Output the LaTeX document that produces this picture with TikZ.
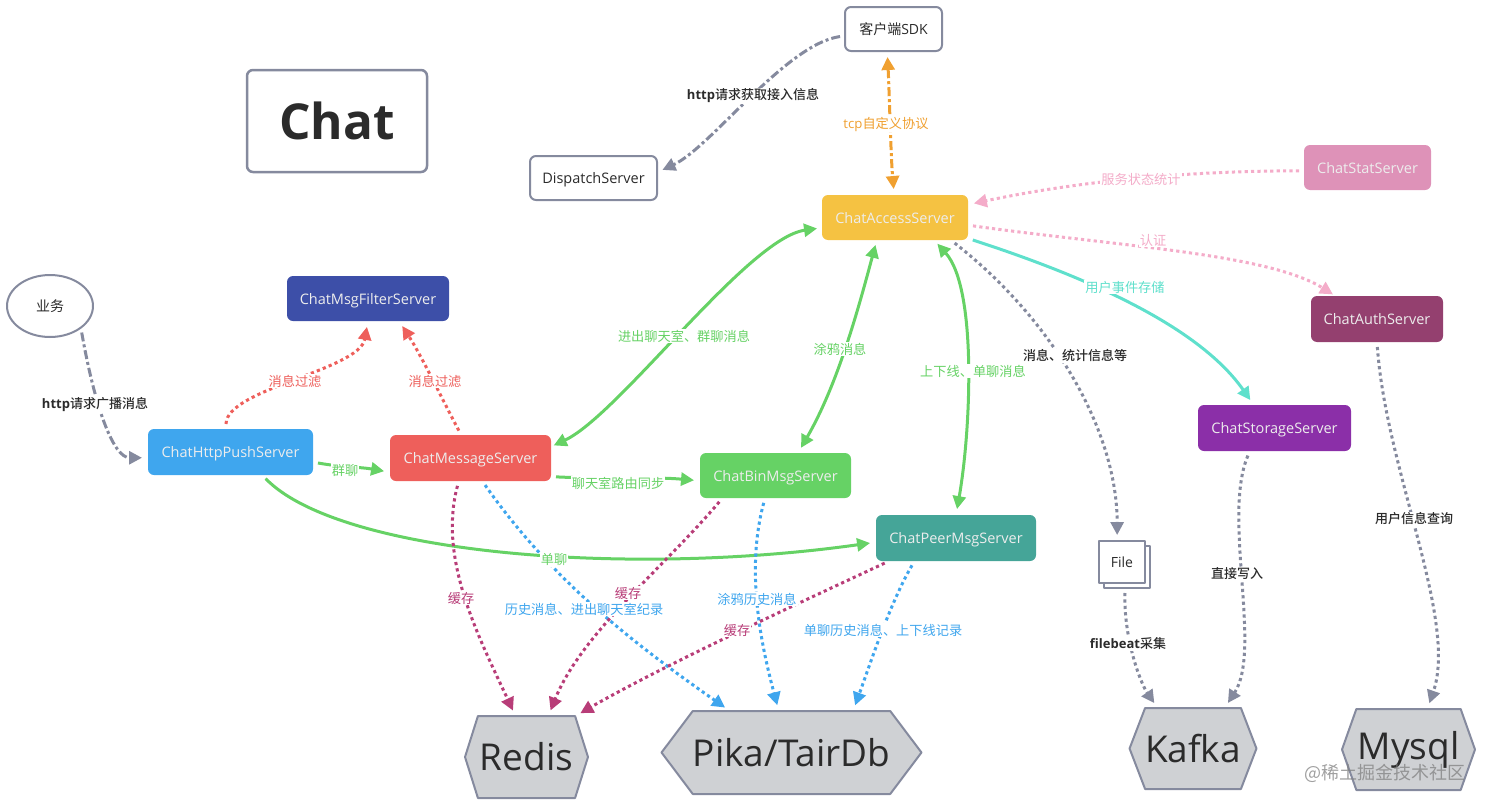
\documentclass[tikz,border=0pt]{standalone}
\usepackage{fontspec}
\setmainfont{Open Sans}
\newfontfamily\cjk{Noto Sans CJK SC}
\newfontfamily\cjkdark{Noto Sans CJK SC Medium}
\newcommand{\latlbl}{\rmfamily}
\newcommand{\latdark}{\rmfamily\bfseries}
\usetikzlibrary{arrows.meta,shapes.symbols,shapes.geometric}
\definecolor{edgegray}{HTML}{858A9E}
\definecolor{linkgreen}{HTML}{66D265}
\definecolor{linkorange}{HTML}{F0A030}
\definecolor{linkpink}{HTML}{F4ACC9}
\definecolor{linkteal}{HTML}{5FE0CC}
\definecolor{linkred}{HTML}{EE5F5B}
\definecolor{linkplum}{HTML}{B83D78}
\definecolor{linkblue}{HTML}{3FA6EE}
\definecolor{darktext}{HTML}{2B2B2B}
\definecolor{hexfill}{HTML}{CFD1D4}
\definecolor{boxaccess}{HTML}{F5C242}
\definecolor{boxstat}{HTML}{DE92B8}
\definecolor{boxauth}{HTML}{94406F}
\definecolor{boxstorage}{HTML}{8B2FA8}
\definecolor{boxfilter}{HTML}{3D4FA8}
\definecolor{boxpeer}{HTML}{45A598}
\tikzset{
	tip/.tip={Triangle[length=13pt,width=13pt]},
	srv/.style={rounded corners=6pt,inner sep=0pt,outer sep=0pt,text=white!93!black,text height=11pt,text depth=0pt,font=\fontsize{14.5}{17}\selectfont},
	plain/.style={srv,draw=edgegray,line width=2pt,fill=white,text=darktext},
	store/.style={shape=signal,signal to=east and west,draw=edgegray,line width=2pt,fill=hexfill,inner sep=0pt,outer sep=0pt,text=darktext,font=\fontsize{37}{40}\selectfont},
	conn/.style={line width=3pt,-tip,shorten >=6pt,shorten <=5pt},
	both/.style={conn,tip-tip},
	dots/.style={conn,line cap=butt,dash pattern=on 3.2pt off 3.2pt},
	dashdot/.style={conn,dash pattern=on 9pt off 3pt on 3pt off 3pt},
	lbl/.style={fill=white,inner sep=1pt,yshift=-1pt,font=\cjk\fontsize{13.2}{15}\selectfont},
	dark/.style={lbl,text=darktext,font=\cjkdark\fontsize{13}{15}\selectfont},
}
\begin{document}
\begin{tikzpicture}[x=1pt,y=-1pt,line join=round]
	\useasboundingbox (0,0) rectangle (1488,806);
	% boxes
	\node[plain,line width=2.5pt,minimum width=180pt,minimum height=102pt,text height=36pt,font=\bfseries\fontsize{49.5}{54}\selectfont] (chat) at (337,121) {Chat};
	\node[plain,minimum width=97pt,minimum height=44pt,font=\cjk\fontsize{14}{17}\selectfont] (sdk) at (893.5,29) {客户端{\latlbl SDK}};
	\node[plain,minimum width=127pt,minimum height=44pt] (dispatch) at (593.5,178) {DispatchServer};
	\node[srv,fill=boxaccess,minimum width=146pt,minimum height=45pt] (access) at (895,217.5) {ChatAccessServer};
	\node[srv,fill=boxstat,minimum width=127pt,minimum height=45pt] (stat) at (1367.5,167.5) {ChatStatServer};
	\node[srv,fill=boxauth,minimum width=132pt,minimum height=46pt] (auth) at (1377,319) {ChatAuthServer};
	\node[srv,fill=boxstorage,minimum width=153pt,minimum height=46pt] (storage) at (1274.5,428) {ChatStorageServer};
	\node[srv,fill=boxfilter,minimum width=162pt,minimum height=45pt] (filter) at (368,298.5) {ChatMsgFilterServer};
	\node[srv,fill=linkblue,minimum width=165pt,minimum height=46pt] (httppush) at (230.5,452) {ChatHttpPushServer};
	\node[srv,fill=linkred,minimum width=161pt,minimum height=46pt] (message) at (470.5,458) {ChatMessageServer};
	\node[srv,fill=linkgreen,minimum width=151pt,minimum height=45pt] (binmsg) at (775.5,475.5) {ChatBinMsgServer};
	\node[srv,fill=boxpeer,minimum width=160pt,minimum height=46pt] (peer) at (956,538) {ChatPeerMsgServer};
	\node[ellipse,draw=edgegray,line width=2pt,fill=white,inner sep=0pt,outer sep=0pt,text=darktext,minimum width=86pt,minimum height=62pt,font=\cjk\fontsize{14}{17}\selectfont] (biz) at (50,306) {业务};
	\node[draw=edgegray,line width=1.6pt,fill=white,inner sep=0pt,outer sep=0pt,minimum width=46pt,minimum height=42pt] (fileback) at (1127,567) {};
	\node[draw=edgegray,line width=1.6pt,fill=white,inner sep=0pt,outer sep=0pt,text=darktext,minimum width=46pt,minimum height=42pt,font=\fontsize{14}{17}\selectfont] (file) at (1122,562) {File};
	% stores
	\node[store,minimum width=123pt,minimum height=82pt,signal pointer angle=145] (redis) at (526.5,757) {Redis};
	\node[store,minimum width=259pt,minimum height=83pt,signal pointer angle=106] (pika) at (791.5,752.5) {Pika/TairDb};
	\node[store,minimum width=126pt,minimum height=81pt,signal pointer angle=138] (kafka) at (1193,748.5) {Kafka};
	\node[store,minimum width=133pt,minimum height=81pt,signal pointer angle=141] (mysql) at (1408.5,749.5) {Mysql};
	% links
	\draw[dashdot,edgegray] (sdk.188) .. controls +(188:60pt) and +(25:60pt) .. (dispatch.5);
	\draw[dashdot,linkorange,tip-tip,shorten <=6pt] (sdk.-106) .. controls +(-87:40pt) and +(95:40pt) .. (access.92);
	\draw[dots,linkpink] (stat.183) .. controls +(180:120pt) and +(12:110pt) .. (access.10);
	\draw[dots,linkpink,shorten >=3pt] (access.-6) .. controls +(-8:150pt) and +(148:80pt) .. (auth.151);
	\draw[conn,linkteal] (access.-16) .. controls +(-18:115pt) and +(125:100pt) .. (storage.132);
	\draw[dots,edgegray] (access.-22) .. controls +(-38:130pt) and +(90:110pt) .. (file.103);
	\draw[both,linkgreen,shorten >=3pt] (access.188) .. controls +(188:75pt) and +(25:75pt) .. (message.8);
	\draw[both,linkgreen] (access.231) .. controls +(-105:70pt) and +(60:80pt) .. (binmsg.45);
	\draw[both,linkgreen] (access.-30) .. controls +(-48:65pt) and +(80:85pt) .. (peer.north);
	\draw[dots,linkred] (httppush.101) .. controls +(90:40pt) and +(-100:50pt) .. (filter.south);
	\draw[dots,linkred] (message.112) .. controls +(118:40pt) and +(-57:40pt) .. (filter.-36);
	\draw[conn,linkgreen] (httppush.-7) .. controls +(-10:30pt) and +(170:30pt) .. (message.190);
	\draw[conn,linkgreen] (message.-13) .. controls +(-3:50pt) and +(175:50pt) .. (binmsg.184);
	\draw[conn,linkgreen] (httppush.-36) .. controls +(-46:109pt) and +(188:255pt) .. (peer.183);
	\draw[dots,linkplum] (message.243) .. controls +(-105:80pt) and +(115:90pt) .. (redis.105);
	\draw[dots,linkblue] (message.-63) .. controls +(-55:120pt) and +(145:120pt) .. (pika.146);
	\draw[dots,linkplum] (binmsg.203) .. controls +(230:90pt) and +(68:90pt) .. (redis.62);
	\draw[dots,linkblue] (binmsg.245) .. controls +(-105:70pt) and +(105:80pt) .. (pika.107);
	\draw[dots,linkplum] (peer.199) .. controls +(205:100pt) and +(30:100pt) .. (redis.40);
	\draw[dots,linkblue] (peer.209) .. controls +(240:50pt) and +(70:50pt) .. (pika.34);
	\draw[dashdot,edgegray] (biz.-35) .. controls +(-80:80pt) and +(180:35pt) .. (httppush.184);
	\draw[dots,edgegray] (fileback.-95) .. controls +(-92:50pt) and +(125:30pt) .. (kafka.131);
	\draw[dots,edgegray] (storage.223) .. controls +(-113:71pt) and +(57:69pt) .. (kafka.52);
	\draw[dots,edgegray] (auth.south) .. controls +(-86:128pt) and +(71:94pt) .. (mysql.65);
	% labels
	\node[dark] (lblhttpget) at (753,95) {{\latdark http}请求获取接入信息};
	\node[lbl,text=linkorange] (lbltcp) at (886,123) {{\latlbl tcp}自定义协议};
	\node[lbl,text=linkpink] (lblstat) at (1141,178) {服务状态统计};
	\node[lbl,text=linkpink] (lblauth) at (1153,239) {认证};
	\node[lbl,text=linkteal] (lblevent) at (1125,286) {用户事件存储};
	\node[dark] (lblinfo) at (1075,355) {消息、统计信息等};
	\node[lbl,text=linkgreen] (lblroom) at (684,335) {进出聊天室、群聊消息};
	\node[lbl,text=linkgreen] (lbldoodle) at (840,348) {涂鸦消息};
	\node[lbl,text=linkgreen] (lblonline) at (973,370) {上下线、单聊消息};
	\node[lbl,text=linkred] (lblfilterb) at (295,380) {消息过滤};
	\node[lbl,text=linkred] (lblfiltera) at (435,380) {消息过滤};
	\node[dark] (lblhttppush) at (95,403) {{\latdark http}请求广播消息};
	\node[lbl,text=linkgreen] (lblgroup) at (345,469) {群聊};
	\node[lbl,text=linkgreen] (lblsync) at (618,482) {聊天室路由同步};
	\node[lbl,text=linkgreen] (lblsingle) at (554,559) {单聊};
	\node[lbl,text=linkplum] (lblcachea) at (461,597) {缓存};
	\node[lbl,text=linkplum] (lblcacheb) at (628,592) {缓存};
	\node[lbl,text=linkplum] (lblcachec) at (737,629) {缓存};
	\node[lbl,text=linkblue] (lblhistory) at (584,608) {历史消息、进出聊天室纪录};
	\node[lbl,text=linkblue] (lblbinhist) at (757,598) {涂鸦历史消息};
	\node[lbl,text=linkblue] (lblpeerhist) at (883,629) {单聊历史消息、上下线记录};
	\node[dark] (lblfilebeat) at (1128,643) {{\latdark filebeat}采集};
	\node[dark] (lblwrite) at (1237,573) {直接写入};
	\node[dark] (lbluser) at (1414,518) {用户信息查询};
	\node[text=gray,opacity=.75,inner sep=0pt,font=\cjk\fontsize{18}{20}\selectfont] (mark) at (1385,773) {@稀土掘金技术社区};
\end{tikzpicture}
\end{document}
